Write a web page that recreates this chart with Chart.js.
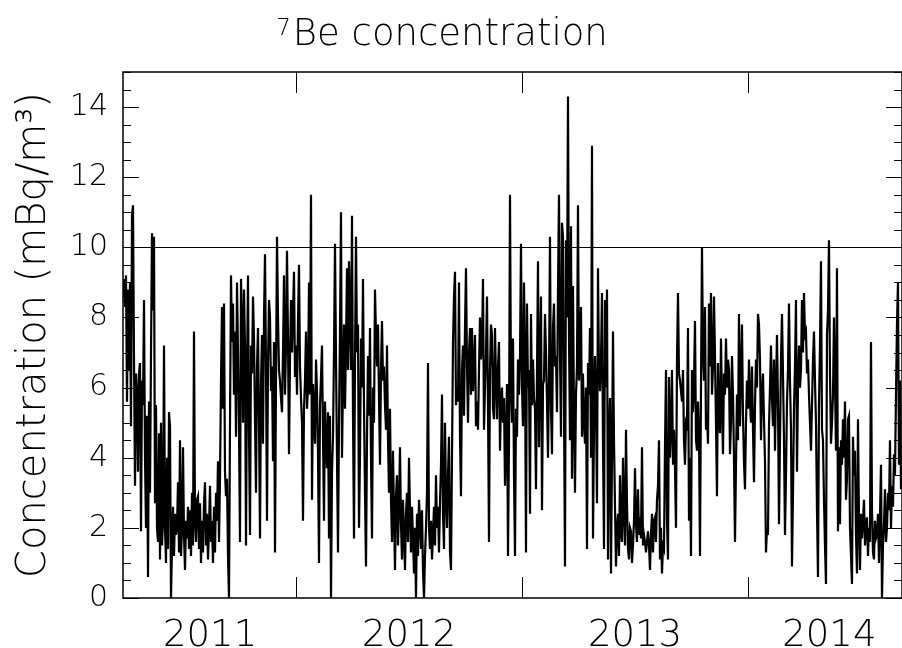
<!DOCTYPE html>
<html><head><meta charset="utf-8">
<script src="https://cdn.jsdelivr.net/npm/chart.js@4/dist/chart.umd.min.js"></script>
<style>html,body{margin:0;padding:0;background:#fff;}canvas{display:block;}</style>
</head><body>
<canvas id="c" width="902" height="648" style="width:902px;height:648px"></canvas>
<script>
const titleSuperscript = '7';
const titleMain = 'Be concentration';
const yAxisTitle = 'Concentration (mBq/m\u00B3)';
const yearLabels = ['2011', '2012', '2013', '2014'];
const yearLabelPositions = [2011.62, 2012.5, 2013.5, 2014.36];
const yearBoundaries = [2012, 2013, 2014];
const yTickValues = [0, 2, 4, 6, 8, 10, 12, 14];
const referenceLevel = [10];
const xRange = [2011.2345, 2014.6815];
const yRange = [0, 15];
// readings are evenly spaced in time (about 1.6 days apart)
const firstSampleYear = 2011.2345;
const sampleStepYears = 0.0044248;

const concentration = [
 8.6, 9.1, 8.3, 9.2, 5.6, 8.8, 6.5, 9.0, 4.9, 10.9,
 11.2, 6.8, 3.2, 6.4, 5.8, 3.6, 6.4, 6.7, 1.9, 6.2,
 5.5, 8.5, 4.0, 2.0, 5.2, 0.6, 5.6, 3.0, 7.0, 10.4,
 8.2, 10.3, 2.7, 5.5, 2.0, 1.6, 4.7, 1.1, 5.0, 1.5,
 2.2, 7.2, 2.0, 1.0, 4.0, 1.4, 5.3, 4.9, 0.0, 1.5,
 2.6, 1.2, 2.4, 1.8, 2.0, 3.3, 1.3, 4.5, 1.2, 2.0,
 4.3, 1.8, 0.8, 2.2, 1.7, 2.6, 1.4, 2.5, 1.2, 3.0,
 1.5, 7.6, 2.2, 1.6, 2.8,
 2.9, 1.4, 2.7, 1.0, 2.2, 1.3, 2.7, 3.3, 1.5, 2.4,
 1.1, 2.0, 3.2, 1.6, 2.2, 1.0, 2.6, 1.3, 3.0, 2.2,
 3.9, 1.6, 3.4, 6.2, 8.3, 5.4, 8.4, 3.6, 2.9, 3.4,
 1.2, 0.0, 5.0, 9.2, 7.3, 8.4, 5.8, 7.6, 4.6, 9.0,
 7.0, 4.8, 1.6, 9.1, 7.9, 5.0, 8.8, 7.2, 1.5, 6.4,
 9.2, 4.7, 1.8, 7.2, 6.4, 8.6, 7.4, 5.1, 3.0, 6.6,
 7.7, 5.0, 1.7, 6.1, 7.5, 4.4, 8.0, 9.8, 6.6, 2.2,
 6.7, 8.5, 8.0, 5.9, 6.6, 3.9, 7.3, 1.3, 6.2, 10.3,
 8.0, 6.5, 6.2,
 5.7, 5.3, 7.0, 9.2, 5.8, 7.2, 9.9, 7.4, 4.1, 6.8,
 8.5, 7.0, 8.2, 9.3, 6.3, 7.2, 5.8, 7.9, 9.5, 6.6,
 5.7, 5.0, 2.2, 5.4, 6.2, 7.6, 5.4, 6.0, 9.0, 5.8,
 11.5, 2.8, 6.1, 5.4, 4.4, 6.8, 5.9, 4.1, 1.0, 5.5,
 6.3, 7.2, 4.6, 2.2, 5.6, 4.4, 3.7, 5.3, 1.7, 5.2,
 0.0, 3.6, 4.6, 7.0, 10.1, 6.8, 4.0, 1.3, 5.0, 7.6,
 11.0, 4.0, 6.2, 7.8, 5.4, 7.2, 9.4, 6.5, 9.6, 8.0,
 6.5, 10.9, 5.2, 1.7, 6.8, 10.3, 7.0, 7.8, 2.0, 4.1,
 7.4, 6.0, 9.1, 5.5, 3.0, 0.9, 4.6, 6.9, 5.2, 7.7,
 4.0, 1.7, 6.0, 5.0, 8.8, 7.5, 6.6, 7.8, 5.7, 3.8,
 6.5, 7.9, 6.2, 6.6, 5.5, 4.8, 7.2, 4.5, 3.0, 5.4,
 2.8, 1.6, 4.2, 2.4, 0.8, 2.9, 3.5, 1.5, 2.6, 4.3,
 2.1, 1.1, 2.8, 1.8, 0.8, 2.4, 3.0, 1.6, 4.0, 2.5,
 1.3, 2.6, 1.7, 0.7, 2.0, 0.0, 2.4, 1.2, 2.8, 2.2,
 1.4, 2.5, 0.8, 0.0, 1.2, 2.0, 3.0, 6.7, 2.0, 1.4,
 2.2, 1.1, 1.8, 2.6, 1.5, 3.5, 2.0, 2.6, 1.3, 2.7,
 3.8, 5.8, 2.4, 1.4, 5.0, 2.9, 2.0, 3.5, 4.6, 1.3,
 0.8, 4.0, 7.3, 8.6, 9.3, 5.5, 6.0, 5.6, 9.0, 4.6,
 2.9, 6.5, 7.2, 5.2, 7.7, 9.4, 6.6, 5.0, 7.0, 7.7,
 5.8, 7.7, 5.9, 6.5, 7.5, 4.9, 5.6, 4.8, 6.5, 8.0,
 6.8, 7.2, 9.1, 4.8, 6.0, 7.0, 8.6, 5.5, 1.6, 6.5,
 7.8, 7.5, 5.4, 5.1, 7.7, 6.2, 5.1, 6.6, 7.3, 4.2,
 5.6, 6.0, 5.0, 5.7, 3.2, 4.5, 6.1, 1.2, 4.5, 11.5,
 6.0, 5.0, 7.4, 3.5, 1.2, 5.4, 4.6, 6.8, 5.8, 6.9,
 10.1, 6.0, 4.9, 9.0, 6.8, 1.3, 8.4, 6.0, 6.5, 2.4,
 8.1, 5.5, 6.8, 5.7, 5.4, 3.1, 6.4, 9.6, 4.3, 6.7,
 8.6, 2.5, 6.1, 6.2, 8.1, 7.0, 5.6, 4.0, 6.3, 10.3,
 5.4, 4.1, 7.7, 8.4, 6.6, 6.9, 5.3, 8.8, 11.5, 7.0,
 4.6, 10.7, 10.3, 5.5, 0.9, 10.2, 8.0, 14.3, 7.5, 4.5,
 10.6, 3.4, 8.9, 5.2, 3.0, 5.8, 6.6, 11.2, 6.2, 7.0,
 8.3, 4.6, 6.4, 5.0, 4.4, 6.0, 1.4, 6.7, 5.8, 7.7,
 4.0, 12.9, 1.7, 4.8, 6.9, 5.6, 2.7, 9.4, 6.5, 5.9,
 6.8, 8.7, 4.4, 1.4, 8.5, 6.0, 8.8, 1.1, 4.5, 5.7,
 0.7, 4.0, 7.6, 4.5, 2.6, 0.9, 2.0, 2.4, 1.2, 3.5,
 1.8, 1.6, 4.0, 2.5, 1.5, 4.8, 2.7, 1.4, 1.1, 2.0,
 1.9, 1.0, 1.5, 2.2, 3.7, 2.1, 1.6, 3.1, 1.8, 2.3,
 1.7, 4.3, 1.5, 1.8, 1.6, 1.3, 1.6, 1.9, 1.5, 0.8,
 1.8, 2.4, 1.3, 2.2, 2.3, 1.6, 2.8, 3.2, 4.5, 1.1,
 2.0, 0.7, 1.5, 1.4, 4.3, 6.5, 2.2, 1.1, 6.3, 4.0,
 4.8, 6.5, 3.8, 4.8, 3.7, 2.0, 6.8, 8.7, 6.4, 6.2,
 5.9, 5.6, 6.5, 4.5, 3.8, 5.0, 4.9, 7.7, 2.2, 4.0,
 1.2, 6.5, 5.3, 6.1, 7.9, 4.5, 4.2, 5.6, 4.7, 1.2,
 6.0, 10.0, 7.0, 6.2, 8.3, 4.8, 5.3, 4.4, 8.4, 6.6,
 8.7, 5.8, 6.6, 8.6, 6.9, 5.0, 2.9, 6.7, 5.2, 4.7,
 7.4, 5.5, 4.1, 6.4, 5.8, 7.4, 6.0, 6.8, 6.5, 4.1,
 5.0, 6.9, 5.8, 4.0, 1.6, 3.8, 5.8, 4.5, 8.1, 4.9,
 6.4, 7.8, 5.2, 3.9, 3.1, 5.0, 6.2, 5.4, 6.8, 5.6,
 5.0, 6.6, 4.8, 3.3, 5.5, 6.8, 6.0, 8.1, 7.8, 6.8,
 4.5, 5.8, 6.4, 5.1, 3.9, 1.3, 2.0, 1.8, 4.9, 6.0,
 7.2, 5.7, 4.9, 6.8, 4.2, 6.0, 7.5, 5.6, 2.1, 4.5,
 6.8, 8.1, 6.4, 4.5, 1.8, 3.5, 5.6, 6.5, 8.4, 6.2,
 4.8, 0.9, 3.0, 5.4, 6.6, 8.5, 3.6, 6.0, 7.2, 6.0,
 6.5, 8.5, 7.0, 8.7, 7.5, 7.6, 6.4, 6.8, 5.8, 5.0,
 4.2, 5.5, 6.8, 7.6, 6.2, 5.0, 2.5, 0.6, 5.5, 7.2,
 9.6, 4.8, 4.5, 2.8, 1.5, 0.4, 7.5, 8.2, 10.2, 6.4,
 4.4, 5.0, 5.8, 8.0, 6.2, 4.2, 9.4, 1.9, 4.3, 2.1,
 4.5, 3.8, 5.1, 4.0, 5.6, 2.8, 3.4, 5.1, 5.2, 2.0,
 1.2, 0.4, 4.6, 3.5, 4.2, 1.8, 0.7, 5.1, 2.2, 0.8,
 2.4, 1.7, 2.2, 2.8, 1.5, 2.1, 2.3, 1.2, 2.0, 1.6,
 7.3, 2.5, 1.3, 1.1, 2.2, 1.7, 1.8, 2.4, 1.0, 2.3,
 3.8, 0.0, 1.5, 2.1, 3.1, 1.6, 2.0, 3.0, 2.5, 4.5,
 2.0, 3.2, 2.6, 4.1, 3.5, 5.8, 7.8, 9.0, 3.8, 6.2,
 3.1
];

const FAMILY = "'DejaVu Sans', 'Liberation Sans', sans-serif";
const points = concentration.map((v, i) => ({x: firstSampleYear + i * sampleStepYears, y: v}));

const framePlugin = {
  id: 'frame',
  afterDraw(chart) {
    const {ctx, chartArea: a, scales} = chart;
    const xs = scales.x, ys = scales.y;
    const seg = (x1, y1, x2, y2) => { ctx.beginPath(); ctx.moveTo(x1, y1); ctx.lineTo(x2, y2); ctx.stroke(); };
    ctx.save();
    ctx.strokeStyle = '#000';
    ctx.lineWidth = 1;
    referenceLevel.forEach(v => {
      const py = Math.round(ys.getPixelForValue(v)) + 0.5;
      seg(a.left, py, a.right, py);
    });
    ctx.lineWidth = 1.5;
    ctx.strokeRect(a.left, a.top, a.right - a.left, a.bottom - a.top);
    ctx.lineWidth = 1;
    yearBoundaries.forEach(yr => {
      const px = Math.round(xs.getPixelForValue(yr)) + 0.5;
      seg(px, a.top, px, a.top + 21);
      seg(px, a.bottom, px, a.bottom - 21);
    });
    for (let k = 0; k <= (yRange[1] - yRange[0]) * 2; k++) {
      const v = yRange[0] + k * 0.5;
      const py = Math.round(ys.getPixelForValue(v)) + 0.5;
      const len = (k % 4 === 0) ? 16 : 8;
      seg(a.left, py, a.left + len, py);
      seg(a.right, py, a.right - len, py);
    }
    // title with raised superscript
    ctx.fillStyle = '#000';
    ctx.textBaseline = 'alphabetic';
    ctx.textAlign = 'left';
    const mainFont = '200 37px ' + FAMILY, supFont = '200 23px ' + FAMILY;
    ctx.font = mainFont;
    const wMain = ctx.measureText(titleMain).width;
    ctx.font = supFont;
    const wSup = ctx.measureText(titleSuperscript).width;
    const gap = 2;
    const x0 = 442 - (wSup + gap + wMain) / 2;
    ctx.fillText(titleSuperscript, x0, 35);
    ctx.font = mainFont;
    ctx.fillText(titleMain, x0 + wSup + gap, 45);
    ctx.restore();
  }
};

new Chart(document.getElementById('c').getContext('2d'), {
  type: 'line',
  data: {datasets: [{
    data: points, borderColor: '#000', borderWidth: 2.2, pointRadius: 0,
    tension: 0, fill: false, spanGaps: true
  }]},
  options: {
    responsive: false, animation: false, devicePixelRatio: 1,
    layout: {padding: {top: 72, right: 0, bottom: 0, left: 0}},
    plugins: {legend: {display: false}, tooltip: {enabled: false}, title: {display: false}},
    scales: {
      x: {
        type: 'linear', min: xRange[0], max: xRange[1],
        grid: {display: false, drawTicks: false}, border: {display: false},
        afterBuildTicks: s => { s.ticks = yearLabelPositions.map(v => ({value: v})); },
        ticks: {autoSkip: false, maxRotation: 0, minRotation: 0, padding: 16, color: '#000',
          font: {family: FAMILY, size: 37, weight: 200},
          callback: (v, i) => yearLabels[i]},
        afterFit: s => { s.height = 50; }
      },
      y: {
        min: yRange[0], max: yRange[1],
        grid: {display: false, drawTicks: false}, border: {display: false},
        afterBuildTicks: s => { s.ticks = yTickValues.map(v => ({value: v})); },
        ticks: {padding: 15, color: '#000', font: {family: FAMILY, size: 30, weight: 200}},
        title: {display: true, text: yAxisTitle, color: '#000',
          font: {family: FAMILY, size: 40, weight: 200}, padding: {top: 11, bottom: 0}},
        afterFit: s => { s.width = 123; }
      }
    }
  },
  plugins: [framePlugin]
});
</script>
</body></html>
